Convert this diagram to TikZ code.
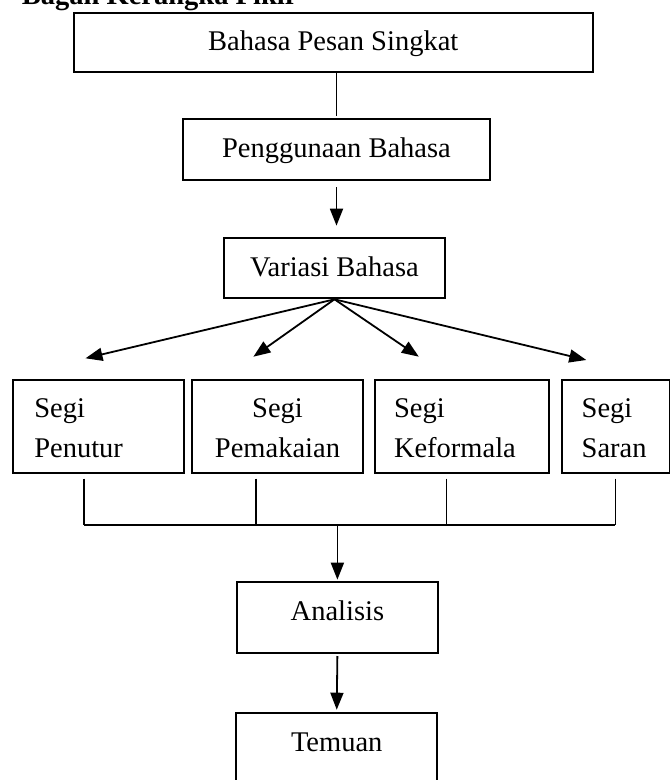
\documentclass[tikz,border=0pt]{standalone}
\usepackage{fontspec}
\setmainfont{Liberation Serif}
\usetikzlibrary{arrows.meta,calc}
\newcommand\figfont{\fontsize{28.5}{40}\selectfont}
\tikzset{
  box/.style={draw, line width=2pt, inner sep=0pt, font=\figfont},
  segibox/.style={box, text height=37pt, text depth=55.5pt, inner xsep=20pt, anchor=base west, align=left},
  conn/.style={line width=1.8pt},
  arr/.style={conn, -{Triangle[length=17pt,width=13pt]}}
}
\begin{document}
\begin{tikzpicture}[x=1pt,y=-1pt]
\useasboundingbox (0,0) rectangle (670,780);
\clip (0,0) rectangle (670,780);

\node[font=\figfont\bfseries, anchor=base west, inner sep=0pt] (title) at (21.7,4) {Bagan Kerangka Pikir};

\node[box, minimum width=519.5pt, text height=37.3pt, text depth=22.3pt, anchor=base] (top) at (333.25,50) {Bahasa Pesan Singkat};
\node[box, minimum width=307pt, text height=38pt, text depth=23pt, anchor=base] (pengg) at (336.5,157) {Penggunaan Bahasa};
\node[box, minimum width=221pt, text height=38.3pt, text depth=22.3pt, anchor=base] (var) at (334.5,276) {Variasi Bahasa};

\node[segibox, inner xsep=21pt, text width=128.4pt] (s1) at (12.3,417) {Segi\\Penutur};
\node[segibox, inner xsep=0pt, text width=171pt, align=center, anchor=base] (s2) at (277.5,417) {Segi\\Pemakaian};
\node[segibox, inner xsep=19pt, text width=136pt] (s3) at (374,417) {Segi\\Keformala};
\node[segibox, inner xsep=20pt, text width=68.6pt] (s4) at (560.7,417) {Segi\\Saran};

\node[box, minimum width=201.2pt, text height=38.3pt, text depth=33.3pt, anchor=base] (ana) at (337.4,620) {Analisis};
\node[box, minimum width=201.3pt, text height=38.4pt, text depth=38.3pt, anchor=base] (tem) at (336.7,751.7) {Temuan};

% top -> Penggunaan
\draw[conn] (top.south -| pengg.north) -- ([yshift=2pt]pengg.north);
% Penggunaan -> Variasi
\draw[arr, shorten <=6pt, shorten >=11pt] (pengg.south) -- (pengg.south |- var.north);

% fan
\coordinate (t1) at (85.5,358.3);
\coordinate (t2) at (253.4,356.7);
\coordinate (t3) at (418.8,356.7);
\coordinate (t4) at (586.3,360);
\foreach \t in {t1,t2,t3,t4} \draw[arr] (var.south) -- (\t);

% collector
\coordinate (l1) at (84,525);
\coordinate (l2) at (256.3,525);
\coordinate (l3) at (446.5,525);
\coordinate (l4) at (615.4,525);
\draw[conn] ($(s1.south -| l1)+(0,5)$) -- (l1);
\draw[conn] ($(s2.south -| l2)+(0,5)$) -- (l2);
\draw[conn] ($(s3.south -| l3)+(0,5)$) -- (l3);
\draw[conn] ($(s4.south -| l4)+(0,5)$) -- (l4);
\draw[conn] (l1) -- (l4);
\coordinate (j) at (ana.north |- l1);
\draw[arr, shorten >=1pt] (j) -- (ana.north);
\draw[arr, shorten <=1.7pt, shorten >=2.6pt] (ana.south) -- (tem.north);
\end{tikzpicture}
\end{document}
